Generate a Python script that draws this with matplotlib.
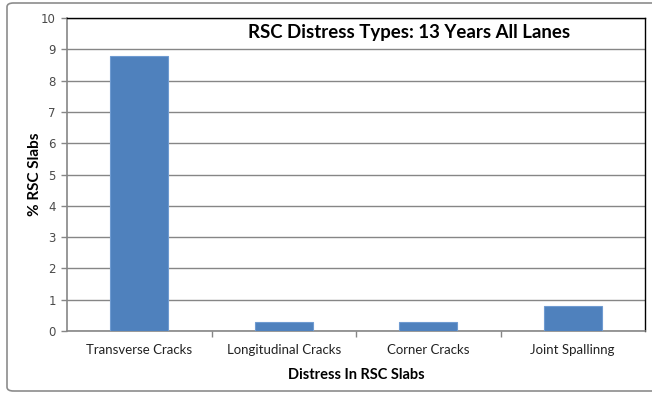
import matplotlib.pyplot as plt
from matplotlib.patches import FancyBboxPatch

categories = ['Transverse Cracks', 'Longitudinal Cracks', 'Corner Cracks', 'Joint Spallinng']
values = [8.8, 0.3, 0.3, 0.8]
yticks = list(range(0, 11))

fig = plt.figure(figsize=(6.52, 3.94), dpi=100)
W, H = 652, 394
ax = fig.add_axes([67 / W, 1 - 331 / H, (645 - 67) / W, (331 - 18) / H])

# figure border
fig.patches.append(FancyBboxPatch((7 / W, 3 / H), 660 / W, 388 / H,
                                  boxstyle='round,pad=0,rounding_size=0.01',
                                  transform=fig.transFigure, fill=False,
                                  edgecolor='#8c8c8c', linewidth=1.2))

x = list(range(len(categories)))
ax.bar(x, values, width=0.4, color='#4f81bd', edgecolor='#6f9bd1', linewidth=0.8, zorder=3)

ax.set_xlim(-0.5, len(categories) - 0.5)
ax.set_ylim(0, 10)
ax.set_yticks(yticks)
ax.set_yticklabels([str(t) for t in yticks], fontsize=8.5, family='DejaVu Sans', color='#4a4a4a')
ax.yaxis.grid(True, color='#868686', linewidth=1.0, zorder=0)

ax.set_xticks(x)
ax.set_xticklabels(categories, fontsize=9.5, family='Lato', color='#222222')
ax.tick_params(axis='x', length=0, pad=9)
ax.set_xticks([i + 0.5 for i in range(len(categories) - 1)], minor=True)
ax.tick_params(axis='x', which='minor', length=4, color='#868686', width=1, direction='out')
ax.tick_params(axis='y', length=4, color='#868686', width=1, direction='out', pad=4)

for s in ['left', 'bottom']:
    ax.spines[s].set_color('#868686')
    ax.spines[s].set_linewidth(1.2)
for s in ['top', 'right']:
    ax.spines[s].set_color('black')
    ax.spines[s].set_linewidth(1.0)

ax.set_xlabel('Distress In RSC Slabs', fontsize=10.5, fontweight='bold', family='Lato', labelpad=9)
ax.set_ylabel('% RSC Slabs', fontsize=11, fontweight='bold', family='Lato')
ax.yaxis.set_label_coords(-0.043, 0.5)

ax.text(0.591, 0.955, 'RSC Distress Types: 13 Years All Lanes', transform=ax.transAxes,
        ha='center', va='center', fontsize=13.4, fontweight='bold', family='Lato')

fig.savefig('out.png', dpi=100)
